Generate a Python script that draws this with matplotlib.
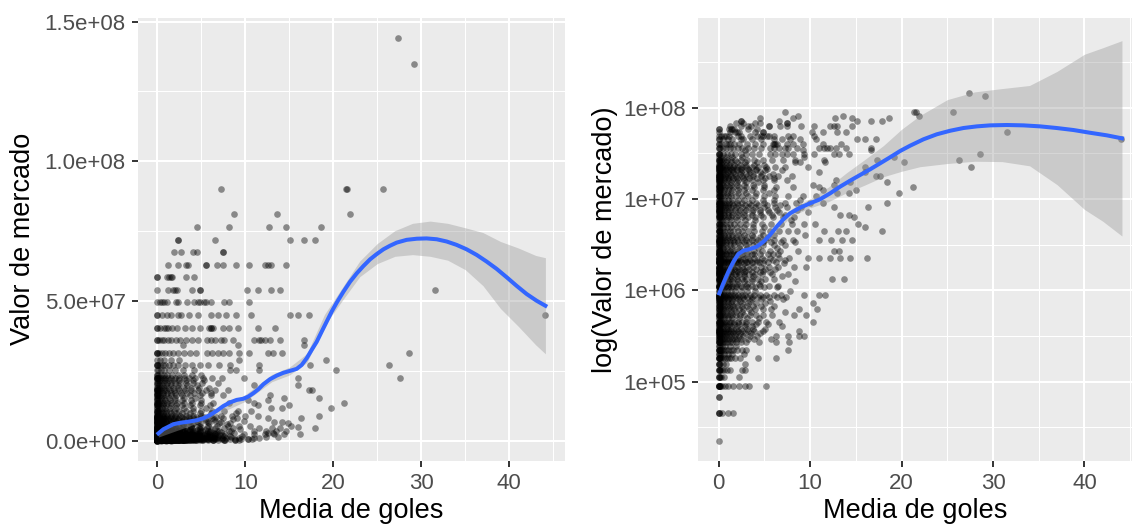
import matplotlib
matplotlib.use('Agg')
import matplotlib.pyplot as plt
from matplotlib.ticker import FixedLocator

plt.rcParams['font.family'] = ['Liberation Sans', 'DejaVu Sans']

# ---- datos: valor de mercado (millones) y media de goles de cada jugador, por nivel de valor ----
valores_mill = [
    0.0225, 0.045, 0.0675, 0.09, 0.1125, 0.135, 0.1575, 0.18, 0.2025, 0.225,
    0.2475, 0.27, 0.2925, 0.315, 0.3375, 0.36, 0.3825, 0.405, 0.4275, 0.45,
    0.495, 0.54, 0.585, 0.63, 0.675, 0.72, 0.765, 0.81, 0.855, 0.9,
    0.99, 1.08, 1.125, 1.17, 1.26, 1.35, 1.44, 1.53, 1.575, 1.62,
    1.71, 1.8, 1.98, 2.025, 2.07, 2.16, 2.25, 2.475, 2.52, 2.7,
    2.925, 3.15, 3.375, 3.6, 3.825, 4.05, 4.5, 4.95, 5.4, 5.85,
    6.3, 6.75, 7.2, 7.65, 8.1, 8.55, 9, 9.9, 10.8, 11.7,
    12.6, 13.5, 14.4, 15.3, 16.2, 17.1, 18, 18.9, 19.8, 20.7,
    21.6, 22.5, 23.4, 25.2, 27, 28.8, 31.5, 34.2, 36, 40.5,
    45, 49.5, 54, 58.5, 63, 67.5, 72, 76.5, 81, 90,
    135, 144,
]
goles_txt = [
    "0",
    "0 0 0 .4 1 1.6",
    "0 0",
    "0 0 0 0 0 .1 .2 .4 .7 1 1.6 2.2 2.9 3.3 5.2",
    "0 0 0 .1 .3 .6 2.2",
    "0 0 0 .1 .2 .4 .6 .9 1.2 2.6 2.9",
    "0 0 0 .2 .5 .8 2.9",
    "0 0 0 0 .1 .2 .3 .5 .7 .9 1.1 1.4 1.8 2.3 4.3 6.3",
    "0 0 .1 .3 .6 1 1.5 2.8",
    "0 0 0 0 .1 .2 .3 .4 .6 .8 1 1.3 1.6 2 2.5 3 7.6",
    "0 0 .2 .4 .7 1.2 1.9",
    "0 0 0 0 .1 .2 .3 .5 .7 .9 1.2 1.5 1.9 2.4 3 4.4 6.3 7.7",
    "0 0 .05 .15 .35 .55 .85 1.15 1.45 1.75 2.05 2.45 3.25 3.9 5.7",
    "0 0 0 .1 .2 .4 .6 .8 1.1 1.4 1.8 2.2 2.7 3.4 4.2 6.3 7.6 8.8 9.3",
    "0 0 0 .05 .25 .45 .65 .95 1.25 1.55 1.95 2.35 2.85 3.55 4.5",
    "0 0 0 0 .1 .3 .5 .7 1 1.3 1.7 2.1 2.6 3.2 3.9 4.8 8.8",
    "0 0 .05 .15 .35 .75 1.05 1.35 1.85 2.45 3.05 3.75 5.05",
    "0 0 .2 .5 .9 1.4 2 2.9 3.6 6.9",
    "0 0 .1 .25 .45 .7 1.15 1.65 2.25 2.95 4.05 5.35",
    "0 0 0 0 .1 .2 .4 .6 .8 1.1 1.4 1.7 2.1 2.5 3 3.6 4.3 5.2 6.6 10.3",
    "0 0 .1 .3 .6 1 1.5 2.2 3.1 4.4",
    "0 0 0 0 .1 .2 .3 .5 .7 .9 1.2 1.5 1.9 2.3 2.8 3.4 4.1 4.9 5.8 8.2 9.5",
    "0 0 .2 .4 .8 1.3 1.9 2.6 3.5 7.3",
    "0 0 0 .1 .3 .5 .7 1 1.3 1.7 2.2 2.7 3.3 4 4.8 5.7 8.8 10.8",
    "0 0 0 .1 .2 .4 .6 .9 1.2 1.6 2 2.5 3.1 3.8 4.6 6.1",
    "0 0 .1 .3 .6 1 1.4 1.9 2.5 3.2 4.1 5.1 10.3",
    "0 0 .2 .5 .9 1.5 2.3 3.4 5.6",
    "0 0 0 .1 .3 .6 1 1.5 2.1 2.8 3.7 4.6 7",
    "0 0 0 .05 .15 .35 .55 .75 .95 1.25 1.55 1.85 2.25 2.65 3.15 3.65 4.25 4.85 5.55 6.35 7.4",
    "0 0 0 0 0 .1 .2 .3 .4 .6 .8 1 1.2 1.5 1.8 2.1 2.5 2.9 3.4 3.9 4.5 5.2 6 6.8 9.3 11 11.6",
    "0 0 .1 .3 .6 .9 1.3 1.8 2.4 3.1 4 7.8",
    "0 0 0 .1 .2 .4 .7 1 1.4 1.9 2.5 3.2 4 5 6.4",
    "0 0 0 .1 .3 .5 .8 1.1 1.5 1.9 2.4 3 3.7 4.5 5.5 6.5",
    "0 .2 .6 1.2 2 3.1 4.4",
    "0 0 .1 .3 .6 1 1.5 2.1 2.8 3.6 4.6 8.4",
    "0 0 0 0 .1 .2 .4 .6 .9 1.2 1.6 2 2.5 3 3.6 4.3 5.1 6 12.4 13.7",
    "0 0 .2 .5 .9 1.4 2 2.8 3.8 6.9",
    "0 0 0 .05 .25 .45 .75 1.05 1.35 1.75 2.25 2.75 3.35 3.95 4.75 5.85 7.6",
    "0 0 0 .1 .3 .6 1 1.5 2.1 2.8 3.6 4.5 5.6",
    "0 0 .1 .4 .8 1.3 2 2.9 4.9",
    "0 0 .05 .15 .35 .65 .95 1.3 1.7 2.2 2.7 3.3 4.1 5.05 6.2",
    "0 0 0 0 .1 .2 .4 .6 .9 1.2 1.6 2 2.5 3.1 3.8 4.6 5.5 6.5 8.2 9.6",
    "0 0 .1 .3 .6 1 1.5 2.1 2.8 3.7 4.8 7.1",
    "0 0 .2 .5 .9 1.4 2.1 3 4.2",
    "0 0 .05 .25 .55 .85 1.15 1.55 1.95 2.45 3.05 3.65 4.45 5.35 6.3",
    "0 0 0 .15 .35 .65 1.05 1.45 1.85 2.35 2.85 3.45 4.15 4.95 5.95 7.3",
    "0 0 0 0 .1 .2 .3 .5 .7 1 1.3 1.7 2.1 2.6 3.2 3.9 4.7 5.6 6.6 7.7 9.8 11 12.2 13.3 14.4 16.2",
    "0 0 .1 .4 .8 1.3 1.9 2.7 3.7 5.9",
    "0 0 .05 .25 .45 .75 1.15 1.6 2.05 2.55 3.15 3.85 4.55 5.45 6.5",
    "0 0 0 0 .1 .2 .4 .6 .9 1.2 1.6 2.1 2.6 3.2 3.9 4.7 5.6 6.7 8.7 12.6 13.2",
    "0 0 .2 .5 .9 1.5 2.2 3.1 4.3 6.4",
    "0 0 0 .1 .3 .5 .8 1.2 1.7 2.3 3 3.8 4.8 6 7.2",
    "0 0 0 .05 .25 .5 .85 1.25 1.65 2.15 2.75 3.35 4.05 4.85 5.75 6.8 8.4",
    "0 0 0 0 .1 .2 .4 .6 .9 1.2 1.6 2 2.5 3 3.6 4.3 5.1 6 7 8.1 11 12.3 13.5 14.6",
    "0 0 .1 .35 .65 1.05 1.45 1.95 2.45 3.05 3.75 4.55 5.45",
    "0 0 .1 .3 .6 1 1.5 2.1 2.8 3.7 4.8 6.1 9.4",
    "0 0 0 0 .1 .2 .4 .6 .9 1.2 1.6 2.1 2.6 3.2 3.9 4.7 5.6 6.6 7.6 8.6 11.5 13 13.9 17.9",
    "0 0 .2 .5 .9 1.4 2 2.8 3.8 5 16",
    "0 0 0 .1 .3 .5 .8 1.2 1.7 2.3 3 3.8 4.7 5.7 6.8 8 9.3 10.5 15.2",
    "0 .1 .4 .8 1.3 2 2.9 4 7.9",
    "0 0 0 .1 .2 .4 .7 1 1.4 1.9 2.5 3.2 4 4.9 5.9 7 8.2 14.8",
    "0 0 .1 .3 .6 1 1.5 2.1 2.8 3.6 4.6 5.8 7.2 13.3 14.2",
    "0 0 0 .1 .3 .6 1 1.5 2.1 2.8 3.6 4.5 5.5 6.6 9.8",
    "0 0 0 .05 .25 .55 .85 1.25 1.75 2.35 3 3.75 4.55 5.45 6.4 8.6",
    "0 0 0 .1 .2 .4 .7 1 1.4 1.9 2.5 3.2 4 5 6.2 7.5 9 12.6 16.3",
    "0 0 .1 .35 .65 1.05 1.55 2.15 2.85 3.55 4.35 5.3 6.7",
    "0 0 0 0 .1 .3 .5 .8 1.1 1.5 2 2.6 3.3 4.1 5 6 7.2 8.5 10 11.4 18.4",
    "0 0 .1 .3 .6 1 1.5 2.1 2.8 3.7 4.8 6.1 8.9",
    "0 0 0 .1 .2 .4 .7 1 1.4 1.9 2.5 3.2 4 5 6.2 7.6 9.2 10.6",
    "0 0 .2 .5 .9 1.4 2.1 3 4.1 5.5 12.9 14.2 19.7",
    "0 0 0 .1 .3 .6 1 1.5 2.1 2.8 3.7 4.8 6 11.4 15",
    "0 0 0 .1 .2 .4 .7 1.1 1.6 2.2 3 3.9 5 6.3 8.1 11 21.2",
    "0 0 .2 .5 .9 1.4 2 2.8 3.8 5 10.3 12.6",
    "0 0 .1 .4 .8 1.3 2 3 4.3 14.4 18.4",
    "0 0 0 .1 .3 .6 1 1.5 2.1 2.8 3.7 4.8 6.1 7.5 12.8",
    "0 0 .05 .3 .65 1.05 1.55 2.05 2.65 3.35 4.15 5.05 6.1",
    "0 0 0 0 .1 .2 .4 .7 1 1.4 1.9 2.5 3.1 3.8 4.6 5.5 6.5 8 17.2 17.6",
    "0 0 .15 .45 .8 1.25 1.75 2.35 3 3.8 4.7 5.9",
    "0 .2 .5 1 1.6 2.4 3.4 4.5 11 16",
    "0 0 .05 .35 .7 1.1 1.5 2 2.6 3.3 4.1 5.1 6.9",
    "0 .2 .5 .85 1.3 1.85 2.45 3.2 4.05 5.3",
    "0 0 0 0 .1 .2 .4 .6 .9 1.2 1.6 2 2.5 3 3.6 4.3 5.2 6.2 7.3 9.8 16 27.6",
    "0 0 .1 .4 .75 1.15 1.7 2.3 3 3.9 5",
    "0 .1 .4 .8 1.3 2 2.9 4.2 8.3 8.9 11.6 20.3",
    "0 0 0 .1 .3 .6 .9 1.3 1.8 2.4 3.1 3.9 4.8 5.8 7 8.3 11.5 17.3 26.3",
    "0 .3 .8 1.5 2.5 9.3 19.2",
    "0 0 0 .2 .5 .9 1.3 1.8 2.4 3 3.7 4.4 5.6 6.2 6.9 7.5 8.1 9.3 10.4 12.6 13.2 14.2 28.6",
    "2.9 9.2 16.7",
    "0 0 .2 .5 .8 1.2 1.6 2.1 2.6 3.2 3.9 4.6 5.6 6.05 6.6 7.2 7.6 8.6 11 11.5 11.8 12.2 12.8 13.9 16.7",
    "0 0 .3 .8 1 1.2 1.7 2.2 3.1 3.95 4.9 5.9 6.05 6.15 6.35 7.5 8.1 9.2 11.4 13.4",
    "0 0 .5 1.05 1.5 2.4 2.7 3.6 4.6 6.05 6.9 7.8 8.9 10.6 15.1 16 17.2 44",
    "0 .3 .55 .8 1.1 2.1 2.4 3.4 4.2 4.65 4.9 5.25 5.5 6.1 7.6 8.1 10.4",
    "0 1.2 1.8 2 2.2 3.95 4.85 4.85 10.2 11.4 12.9 13.9 31.5",
    "0 0 1.1 1.3 1.5 1.7 3.2 4.2",
    "1.2 2.4 3.2 3.5 5.5 5.5 6.75 7.5 8.95 10.4 12.2 12.6 12.9 14.6",
    "1.9 2.66 4 4.5 7.5 7.5",
    "2.4 2.4 6.6 15.1 16.7 17.9",
    "4.5 8.16 12.7 14.6 18.6",
    "8.7 13.65 21.9",
    "7.2 21.4 21.6 25.6",
    "29.15",
    "27.4",
]

# curva loess (escala lineal) y su banda de confianza, en millones
suave_lin_x = [0.12, 0.69, 1.26, 1.82, 2.58, 3.52, 4.47, 5.23, 5.99, 6.75, 7.5, 8.26,
               9.02, 9.77, 10.34, 10.91, 11.48, 12.05, 12.8, 13.56, 14.32, 15.08, 15.83,
               16.4, 16.97, 17.54, 18.11, 18.67, 19.24, 19.81, 20.38, 21.14, 21.9, 22.66,
               23.41, 24.17, 24.93, 25.69, 26.45, 27.2, 28.34, 29.5, 30.6, 31.75, 32.88,
               34.0, 35.15, 36.29, 37.43, 38.56, 39.7, 40.84, 41.97, 43.1, 44.1]
suave_lin_y = [2.6, 4.1, 5.0, 5.9, 6.4, 6.8, 7.3, 8.0, 9.2, 10.7, 12.4, 13.7,
               14.6, 15.0, 15.8, 17.0, 18.4, 20.2, 22.0, 23.3, 24.3, 25.0, 25.7,
               27.1, 29.5, 32.5, 35.4, 39.0, 42.6, 46.2, 49.4, 53.3, 56.9, 59.9,
               62.5, 64.9, 66.8, 68.5, 69.8, 70.9, 71.9, 72.3, 72.4, 72.1, 71.3,
               70.1, 68.5, 66.5, 64.1, 61.5, 58.5, 55.4, 52.5, 50.1, 48.3]
banda_lin_x = [0.12, 5, 10, 13, 15, 17, 19, 21, 23, 25, 27, 29, 31, 33, 35, 37, 39, 41, 43, 44.1]
banda_lin_lo = [1.3, 6.8, 14.1, 21.1, 23.5, 28.0, 41.2, 50.1, 58.7, 63.4,
                66.0, 66.6, 66.0, 64.6, 61.2, 55.5, 47.3, 41.0, 34.3, 31.1]
banda_lin_hi = [3.9, 8.8, 16.5, 23.7, 26.3, 31.2, 45.2, 54.7, 64.3, 70.6,
                75.2, 77.8, 78.6, 77.8, 76.2, 74.5, 71.3, 69.0, 66.3, 65.5]

# curva loess (escala log) y su banda, en millones
suave_log_x = [0.07, 0.51, 1.06, 1.61, 2.15, 2.7, 3.43, 4.16, 4.89, 5.61, 6.34, 7.07,
               7.8, 8.9, 9.99, 11.08, 12.18, 13.27, 14.37, 15.46, 16.55, 17.65, 18.74,
               19.84, 20.93, 22.39, 23.85, 25.31, 26.77, 28.23, 29.68, 31.5, 33.33,
               35.15, 36.97, 38.8, 40.62, 42.44, 44.1]
suave_log_y = [0.929, 1.197, 1.603, 2.061, 2.506, 2.723, 2.838, 3.013, 3.412, 4.046,
               4.989, 6.012, 6.982, 8.054, 8.995, 9.954, 11.56, 13.68, 15.92, 18.37,
               21.18, 24.66, 28.71, 33.65, 38.46, 45.19, 51.29, 56.10, 60.12, 62.66,
               64.27, 64.86, 64.27, 62.66, 60.12, 57.15, 53.33, 50.00, 46.34]
banda_log_x = [0.07, 2, 4, 6, 8, 10, 12, 14, 16, 18, 20, 22, 25, 28, 31, 34, 37, 40, 42, 44.1]
banda_log_lo = [0.847, 2.239, 2.786, 4.169, 6.546, 8.017, 9.376, 11.75, 14.29, 17.58,
                20.18, 22.65, 24.55, 26.00, 25.76, 23.17, 14.42, 7.709, 5.728, 3.945]
banda_log_hi = [1.019, 2.570, 3.199, 4.898, 7.870, 10.09, 13.55, 19.50, 27.23, 38.46,
                58.21, 82.22, 123.0, 149.6, 162.6, 175.8, 250.6, 386.4, 455.0, 544.5]

goles, valor = [], []
for v, fila in zip(valores_mill, goles_txt):
    for g in fila.split():
        goles.append(float(g))
        valor.append(v * 1e6)

GRIS_FONDO = '#EBEBEB'
AZUL = '#3366FF'


def estilo(ax):
    ax.set_facecolor(GRIS_FONDO)
    for s in ax.spines.values():
        s.set_visible(False)
    ax.set_axisbelow(True)
    ax.grid(which='major', color='white', lw=1.5)
    ax.grid(which='minor', color='white', lw=0.75)
    ax.tick_params(which='major', length=4.3, width=1.4, color='#333333',
                   labelsize=16, labelcolor='#4D4D4D', pad=4.5)
    ax.tick_params(which='minor', length=0)
    ax.xaxis.set_major_locator(FixedLocator([0, 10, 20, 30, 40]))
    ax.xaxis.set_minor_locator(FixedLocator([5, 15, 25, 35, 45]))
    ax.set_xlabel('Media de goles', fontsize=19.5, labelpad=3)


fig = plt.figure(figsize=(11.32, 5.25), dpi=100)
ax1 = fig.add_axes([0.1219, 0.1225, 0.3770, 0.8432])
ax2 = fig.add_axes([0.6166, 0.1225, 0.3834, 0.8432])

# panel izquierdo: escala lineal
estilo(ax1)
ax1.scatter(goles, valor, s=23, c='black', alpha=0.42, linewidths=0, zorder=2)
ax1.fill_between(banda_lin_x, [v * 1e6 for v in banda_lin_lo], [v * 1e6 for v in banda_lin_hi],
                 color='#999999', alpha=0.4, lw=0, zorder=3)
ax1.plot(suave_lin_x, [v * 1e6 for v in suave_lin_y], color=AZUL, lw=2.9, zorder=4)
ax1.set_xlim(-2.2, 46.3)
ax1.set_ylim(-7.16e6, 151.3e6)
ax1.yaxis.set_major_locator(FixedLocator([0, 5e7, 1e8, 1.5e8]))
ax1.yaxis.set_minor_locator(FixedLocator([2.5e7, 7.5e7, 1.25e8]))
ax1.set_yticklabels(['0.0e+00', '5.0e+07', '1.0e+08', '1.5e+08'])
ax1.set_ylabel('Valor de mercado', fontsize=19.5, labelpad=6)

# panel derecho: escala logarítmica
estilo(ax2)
ax2.set_yscale('log')
ax2.scatter(goles, valor, s=23, c='black', alpha=0.42, linewidths=0, zorder=2)
ax2.fill_between(banda_log_x, [v * 1e6 for v in banda_log_lo], [v * 1e6 for v in banda_log_hi],
                 color='#999999', alpha=0.4, lw=0, zorder=3)
ax2.plot(suave_log_x, [v * 1e6 for v in suave_log_y], color=AZUL, lw=2.9, zorder=4)
ax2.set_xlim(-2.26, 45.2)
ax2.set_ylim(10 ** 4.135, 10 ** 8.984)
ax2.yaxis.set_major_locator(FixedLocator([1e5, 1e6, 1e7, 1e8]))
ax2.yaxis.set_minor_locator(FixedLocator([10 ** 4.5, 10 ** 5.5, 10 ** 6.5, 10 ** 7.5, 10 ** 8.5]))
ax2.set_yticklabels(['1e+05', '1e+06', '1e+07', '1e+08'])
ax2.yaxis.set_minor_formatter(plt.NullFormatter())
ax2.set_ylabel('log(Valor de mercado)', fontsize=19.5, labelpad=4)

fig.savefig('out.png', dpi=100)
